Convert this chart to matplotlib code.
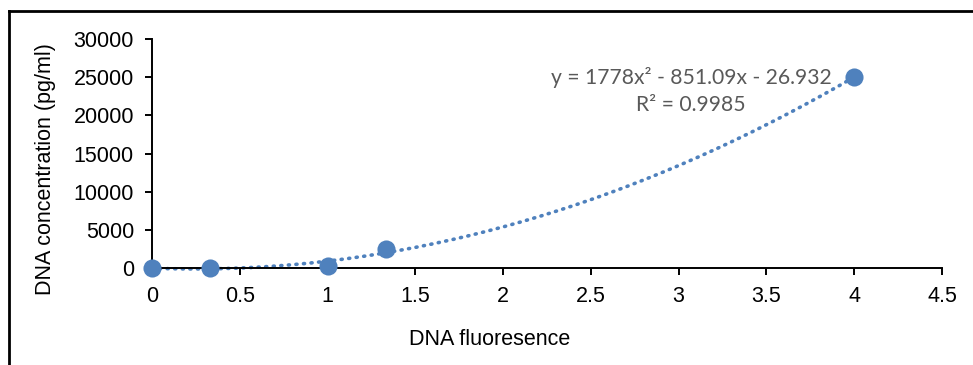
import matplotlib
matplotlib.use("Agg")
import matplotlib.pyplot as plt
from matplotlib.lines import Line2D
import numpy as np

# Standard-curve measurements
fluorescence = [0, 0.333, 1, 1.333, 4]
concentration = [0, 25, 250, 2500, 25000]

# Polynomial (order 2) trendline coefficients and goodness of fit
coef_a, coef_b, coef_c = 1778, -851.09, -26.932
r_squared = 0.9985

x_ticks = [0, 0.5, 1, 1.5, 2, 2.5, 3, 3.5, 4, 4.5]
y_ticks = [0, 5000, 10000, 15000, 20000, 25000, 30000]

blue = "#4F81BD"
plt.rcParams["font.family"] = ["Liberation Sans", "DejaVu Sans"]

fig = plt.figure(figsize=(9.73, 3.65), dpi=100)
ax = fig.add_axes([0.1562, 0.2658, 0.9681 - 0.1562, 0.893 - 0.2658])

# Trendline
xs = np.linspace(0, 4, 200)
ys = coef_a * xs**2 + coef_b * xs + coef_c
ax.plot(xs, ys, color=blue, lw=2.6, linestyle=(0, (0.3, 1.8)),
        dash_capstyle="round", zorder=2, clip_on=False)

ax.scatter(fluorescence, concentration, s=170, color=blue, zorder=3,
           clip_on=False, linewidths=0)

ax.set_xlim(0, 4.5)
ax.set_ylim(0, 30000)
ax.set_xticks(x_ticks)
ax.set_xticklabels([f"{t:g}" for t in x_ticks])
ax.set_yticks(y_ticks)
ax.set_yticklabels([str(t) for t in y_ticks])

for side in ("top", "right"):
    ax.spines[side].set_visible(False)
for side in ("left", "bottom"):
    ax.spines[side].set_linewidth(1.4)
ax.tick_params(axis="both", direction="out", length=5, width=1.4,
               labelsize=15.5, pad=8)

ax.set_xlabel("DNA fluoresence", fontsize=15.5)
ax.xaxis.set_label_coords(0.428, -0.265)
ax.set_ylabel("DNA concentration (pg/ml)", fontsize=15.5)
ax.yaxis.set_label_coords(-0.1215, 0.43)

eq_font = ["Lato", "DejaVu Sans"]
ax.text(3.07, 25000, f"y = {coef_a}x² - {abs(coef_b)}x - {abs(coef_c)}",
        ha="center", va="center", fontsize=15.2, color="#595959",
        family=eq_font)
ax.text(3.07, 21400, f"R² = {r_squared}", ha="center", va="center",
        fontsize=15.2, color="#595959", family=eq_font)

# Outer frame (left and top edges)
fig.add_artist(Line2D([8.5 / 973, 8.5 / 973], [0, 1 - 10.5 / 365],
                      transform=fig.transFigure, color="black", lw=2))
fig.add_artist(Line2D([8.5 / 973, 1], [1 - 10.5 / 365, 1 - 10.5 / 365],
                      transform=fig.transFigure, color="black", lw=2))

fig.savefig("out.png", dpi=100)
